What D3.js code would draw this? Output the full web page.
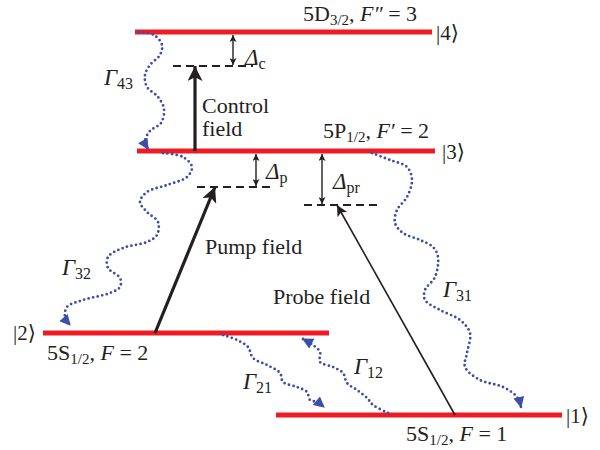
<!DOCTYPE html>
<html>
<head>
<meta charset="utf-8">
<script src="https://cdn.jsdelivr.net/npm/d3@7/dist/d3.min.js"></script>
<style>
  html, body { margin: 0; padding: 0; background: #fff; }
  svg text { font-family: "Liberation Serif", "DejaVu Serif", serif; fill: #231f20; }
</style>
</head>
<body>
<svg id="chart" width="600" height="450"></svg>
<script>
// Energy levels (energy units, |1> = 0) and horizontal extents
const levelNames = ["|1\u27E9", "|2\u27E9", "|3\u27E9", "|4\u27E9"];
const levelEnergy = [0, 82, 264, 383];
const levelX0 = [276, 43, 137, 135];
const levelX1 = [562, 329, 435, 432];

// Virtual levels (detuned from the upper state of each transition)
const virtualNames = ["c", "p", "pr"];
const virtualEnergy = [349, 228, 210];
const virtualX0 = [173, 197, 304];
const virtualX1 = [253, 272, 382];
const virtualUpper = [383, 264, 264];
const detuneX = [233, 256, 322];

// Laser fields: start x on lower level, end x on virtual level
const fieldNames = ["Control", "Pump", "Probe"];
const fieldX0 = [195, 155, 455];
const fieldE0 = [264, 82, 0];
const fieldX1 = [195, 215, 337];
const fieldE1 = [349, 228, 210];
const fieldWidth = [3.2, 3.2, 1.6];

// Spontaneous decay paths (x, energy) control points
const decay43 = [[139,383],[154,380],[162,370],[160,360],[150,350],[145,340],[147,328],[158,318],[164,306],[161,292],[150,284],[145,274],[148,266]];
const decay32 = [[163,262],[183,258],[192,248],[187,238],[167,230],[147,223],[140,213],[147,203],[158,193],[157,180],[147,173],[123,167],[108,158],[108,147],[120,137],[120,128],[110,122],[83,115],[67,108],[65,98],[70,90]];
const decay31 = [[372,262],[390,255],[407,248],[412,235],[407,218],[397,205],[395,192],[403,182],[420,175],[433,168],[438,158],[435,138],[425,125],[425,115],[440,105],[460,95],[470,82],[467,62],[465,48],[480,35],[503,28],[517,18],[521,8]];
const decay21 = [[223,80],[237,75],[248,68],[253,57],[267,50],[280,42],[283,33],[297,28],[307,23],[310,15],[317,13],[324,8]];
const decay12 = [[388,2],[373,10],[367,17],[357,25],[347,32],[343,42],[333,48],[320,53],[320,63],[313,70],[303,76]];
const decayPaths = [decay43, decay32, decay31, decay21, decay12];

// Level descriptions
const levelLabels = [
  {base: "5S", sub: "1/2", rest: ", ", ital: "F", tail: " = 1"},
  {base: "5S", sub: "1/2", rest: ", ", ital: "F", tail: " = 2"},
  {base: "5P", sub: "1/2", rest: ", ", ital: "F\u2032", tail: " = 2"},
  {base: "5D", sub: "3/2", rest: ", ", ital: "F\u2033", tail: " = 3"}
];
const decayLabels = ["43", "32", "31", "21", "12"];

const svg = d3.select("#chart");
const x = d3.scaleLinear().domain([0, 600]).range([0, 600]);
const y = d3.scaleLinear().domain([0, 383]).range([415, 32]);

const red = "#ed1c24";
const blue = "#3d4ea8";
const ink = "#231f20";

// marker defs
const defs = svg.append("defs");
function arrowMarker(id, color, w, h, orient) {
  defs.append("marker")
    .attr("id", id).attr("viewBox", "0 0 10 10")
    .attr("refX", 10).attr("refY", 5)
    .attr("markerUnits", "userSpaceOnUse")
    .attr("markerWidth", w).attr("markerHeight", h)
    .attr("orient", orient || "auto")
    .append("path").attr("d", "M0,0 L10,5 L0,10 L2.5,5 Z").attr("fill", color);
}
arrowMarker("headThick", ink, 17, 15);
arrowMarker("headThin", ink, 14, 11);
arrowMarker("headSmall", ink, 8, 7, "auto-start-reverse");
defs.append("marker")
  .attr("id", "headBlue").attr("viewBox", "0 0 10 10")
  .attr("refX", 9).attr("refY", 5)
  .attr("markerUnits", "userSpaceOnUse")
  .attr("markerWidth", 12).attr("markerHeight", 11)
  .attr("orient", "auto")
  .append("path").attr("d", "M0,0 L10,5 L0,10 Z").attr("fill", blue);

// energy levels
svg.selectAll("line.level").data(levelEnergy).join("line")
  .attr("class", "level")
  .attr("x1", (d, i) => x(levelX0[i])).attr("x2", (d, i) => x(levelX1[i]))
  .attr("y1", d => y(d)).attr("y2", d => y(d))
  .attr("stroke", red).attr("stroke-width", 5);

// virtual levels
svg.selectAll("line.virtual").data(virtualEnergy).join("line")
  .attr("class", "virtual")
  .attr("x1", (d, i) => x(virtualX0[i])).attr("x2", (d, i) => x(virtualX1[i]))
  .attr("y1", d => y(d)).attr("y2", d => y(d))
  .attr("stroke", ink).attr("stroke-width", 1.8)
  .attr("stroke-dasharray", "8,5");

// detuning double arrows
svg.selectAll("line.detune").data(virtualEnergy).join("line")
  .attr("class", "detune")
  .attr("x1", (d, i) => x(detuneX[i])).attr("x2", (d, i) => x(detuneX[i]))
  .attr("y1", (d, i) => y(virtualUpper[i]) + 3).attr("y2", d => y(d) - 1)
  .attr("stroke", ink).attr("stroke-width", 1.4)
  .attr("marker-end", "url(#headSmall)").attr("marker-start", "url(#headSmall)");

// laser field arrows
svg.selectAll("line.field").data(fieldNames).join("line")
  .attr("class", "field")
  .attr("x1", (d, i) => x(fieldX0[i])).attr("y1", (d, i) => y(fieldE0[i]))
  .attr("x2", (d, i) => x(fieldX1[i])).attr("y2", (d, i) => y(fieldE1[i]))
  .attr("stroke", ink).attr("stroke-width", (d, i) => fieldWidth[i])
  .attr("marker-end", (d, i) => i === 2 ? "url(#headThin)" : "url(#headThick)");

// decay wavy dotted paths
const wave = d3.line().x(d => x(d[0])).y(d => y(d[1])).curve(d3.curveCatmullRom.alpha(0.5));
svg.selectAll("path.decay").data(decayPaths).join("path")
  .attr("class", "decay")
  .attr("d", wave)
  .attr("fill", "none").attr("stroke", blue).attr("stroke-width", 2.8)
  .attr("stroke-linecap", "round").attr("stroke-dasharray", "0,4.6")
  .attr("marker-end", "url(#headBlue)");

// text helpers
function richText(g, xPos, yPos, parts, size, subSize, subShift) {
  const t = g.append("text").attr("x", xPos).attr("y", yPos).attr("font-size", size);
  parts.forEach(p => {
    const s = t.append("tspan").text(p.t);
    if (p.i) s.attr("font-style", "italic");
    if (p.sub) s.attr("font-size", subSize).attr("dy", subShift);
    if (p.up) s.attr("dy", -subShift);
  });
  return t;
}

// level kets
const ketPos = [[566, 423], [13, 340], [442, 159], [436, 40]];
svg.selectAll("text.ket").data(levelNames).join("text")
  .attr("class", "ket")
  .attr("x", (d, i) => ketPos[i][0]).attr("y", (d, i) => ketPos[i][1])
  .attr("font-size", 21).text(d => d);

// level descriptions
const descPos = [[406, 441], [47, 360], [323, 138], [303, 21]];
levelLabels.forEach((l, i) => {
  richText(svg, descPos[i][0], descPos[i][1], [
    {t: l.base}, {t: l.sub, sub: true}, {t: l.rest, up: true}, {t: l.ital, i: true}, {t: l.tail}
  ], 22, 15, 3.5);
});

// decay labels
const decayLabelPos = [[104, 85], [62, 275], [443, 297], [243, 389], [354, 374]];
decayLabels.forEach((s, i) => {
  richText(svg, decayLabelPos[i][0], decayLabelPos[i][1], [
    {t: "\u0393", i: true}, {t: s, sub: true}
  ], 23, 16, 4);
});

// detuning labels
const detuneLabelPos = [[245, 65], [266, 179], [333, 189]];
virtualNames.forEach((s, i) => {
  richText(svg, detuneLabelPos[i][0], detuneLabelPos[i][1], [
    {t: "\u0394", i: true}, {t: s, sub: true}
  ], 23, 16, 4);
});

// field labels
const fieldText = [["Control", 202, 113], ["field", 202, 136], ["Pump field", 205, 254], ["Probe field", 273, 304]];
svg.selectAll("text.fieldlbl").data(fieldText).join("text")
  .attr("class", "fieldlbl")
  .attr("x", d => d[1]).attr("y", d => d[2])
  .attr("font-size", 22).text(d => d[0]);
</script>
</body>
</html>
